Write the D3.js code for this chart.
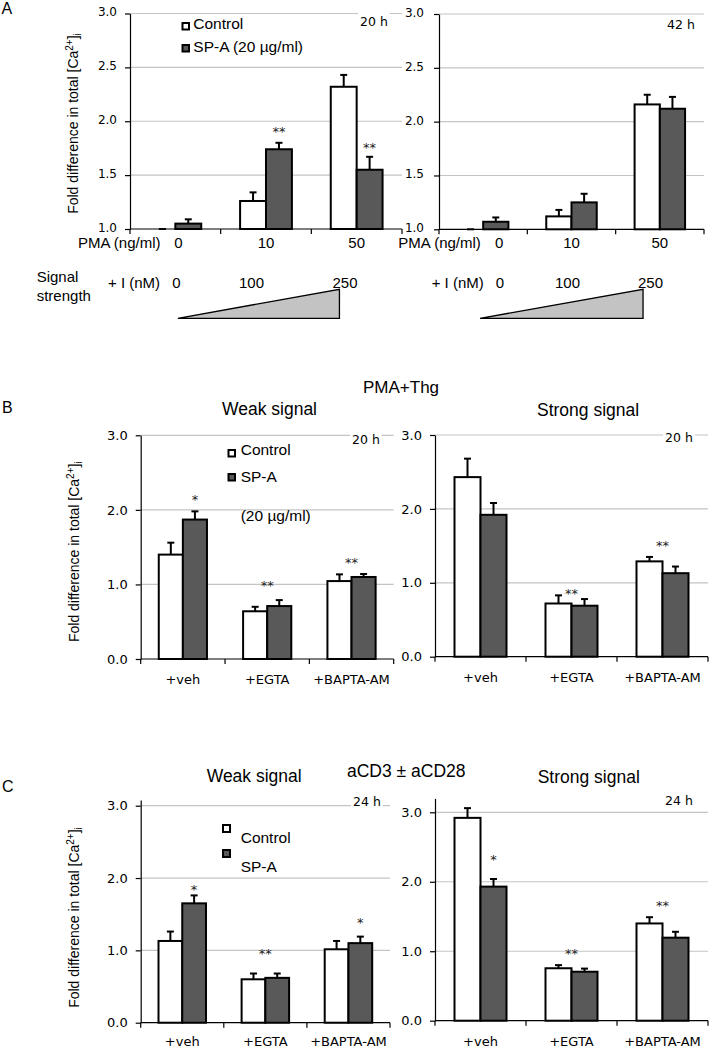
<!DOCTYPE html>
<html><head><meta charset="utf-8">
<script src="https://cdn.jsdelivr.net/npm/d3@7"></script>
<style>
body{margin:0;background:#fff}
svg{display:block}
text{font-family:"Liberation Sans",Arial,sans-serif;fill:#000}
.dv{font-family:"DejaVu Sans",Verdana,sans-serif}
</style>
</head><body>
<svg id="chart" width="709" height="1048"></svg>
<script>
// ---------- data ----------
const seriesNames = ["Control", "SP-A"];
const catsA = ["0", "10", "50"];
const catsBC = ["+veh", "+EGTA", "+BAPTA-AM"];
const yTicksA = [1.0, 1.5, 2.0, 2.5, 3.0];
const yTicksBC = [0, 1, 2, 3];
const signalLabels = ["0", "100", "250"];

// Panel A, 20 h
const a20Control = [1.00, 1.26, 2.32];
const a20ControlErr = [0.00, 0.08, 0.11];
const a20SPA = [1.05, 1.74, 1.55];
const a20SPAErr = [0.04, 0.06, 0.12];
const a20Stars = [{cat: "10", text: "**", at: "SP-A", level: 1.93}, {cat: "50", text: "**", at: "SP-A", level: 1.78}];
// Panel A, 42 h
const a42Control = [1.00, 1.12, 2.16];
const a42ControlErr = [0.00, 0.06, 0.09];
const a42SPA = [1.07, 1.25, 2.12];
const a42SPAErr = [0.04, 0.08, 0.11];
const a42Stars = [];
// Panel B weak
const bWeakControl = [1.40, 0.64, 1.045];
const bWeakControlErr = [0.16, 0.06, 0.09];
const bWeakSPA = [1.87, 0.71, 1.10];
const bWeakSPAErr = [0.11, 0.08, 0.04];
const bWeakStars = [{cat: "+veh", text: "*", at: "SP-A", level: 2.18}, {cat: "+EGTA", text: "**", at: "mid", level: 1.03}, {cat: "+BAPTA-AM", text: "**", at: "mid", level: 1.34}];
// Panel B strong
const bStrongControl = [2.43, 0.72, 1.29];
const bStrongControlErr = [0.25, 0.11, 0.06];
const bStrongSPA = [1.92, 0.69, 1.13];
const bStrongSPAErr = [0.16, 0.09, 0.09];
const bStrongStars = [{cat: "+EGTA", text: "**", at: "mid", level: 0.90}, {cat: "+BAPTA-AM", text: "**", at: "mid", level: 1.54}];
// Panel C weak
const cWeakControl = [1.13, 0.60, 1.015];
const cWeakControlErr = [0.13, 0.08, 0.115];
const cWeakSPA = [1.65, 0.62, 1.10];
const cWeakSPAErr = [0.11, 0.06, 0.09];
const cWeakStars = [{cat: "+veh", text: "*", at: "SP-A", level: 1.88}, {cat: "+EGTA", text: "**", at: "mid", level: 1.00}, {cat: "+BAPTA-AM", text: "*", at: "SP-A", level: 1.42}];
// Panel C strong
const cStrongControl = [2.92, 0.755, 1.40];
const cStrongControlErr = [0.14, 0.045, 0.09];
const cStrongSPA = [1.93, 0.705, 1.195];
const cStrongSPAErr = [0.11, 0.045, 0.085];
const cStrongStars = [{cat: "+veh", text: "*", at: "SP-A", level: 2.36}, {cat: "+EGTA", text: "**", at: "mid", level: 1.01}, {cat: "+BAPTA-AM", text: "**", at: "mid", level: 1.70}];

// ---------- drawing ----------
const svg = d3.select("#chart");
const DARK = "#595959", GRID = "#c4c4c4";

function panel(p) {
  const g = svg.append("g");
  const x = d3.scaleBand().domain(p.cats).range([p.x0, p.x1]);
  const xs = d3.scaleBand().domain(seriesNames).range([0, x.bandwidth()]).paddingOuter(0.75);
  const ymin = p.ticks[0], y3 = p.ticks[p.ticks.length - 1];
  const pxPer = (p.yb - p.y3) / (y3 - ymin);
  const ytop = p.ytop || y3;
  const y = d3.scaleLinear().domain([ymin, ytop]).range([p.yb, p.yb - pxPer * (ytop - ymin)]);

  // gridlines
  g.selectAll(".grid").data(p.ticks.filter(t => t > ymin)).join("line")
    .attr("x1", p.x0).attr("x2", p.x1)
    .attr("y1", d => y(d)).attr("y2", d => y(d))
    .attr("stroke", GRID).attr("stroke-width", 1.2);

  // y axis
  const ya = g.append("g").attr("transform", `translate(${p.x0},0)`)
    .call(d3.axisLeft(y).tickValues(p.ticks).tickFormat(d3.format(".1f"))
      .tickSizeInner(5).tickSizeOuter(0).tickPadding(p.tickPad || 8));
  ya.select(".domain").attr("stroke", "#000").attr("stroke-width", 1.2);
  ya.selectAll(".tick line").attr("stroke", "#000").attr("stroke-width", 1.2);
  ya.selectAll(".tick text").attr("class", "dv").style("font-size", p.tickFont + "px")
    .style("font-family", '"DejaVu Sans",Verdana,sans-serif').attr("fill", "#000")
    .attr("dy", p.tickDy || "0.32em");

  // x axis
  g.append("line").attr("x1", p.x0).attr("x2", p.x1).attr("y1", y(ymin)).attr("y2", y(ymin))
    .attr("stroke", "#000").attr("stroke-width", 1.2);
  const bounds = p.cats.map(c => x(c)).concat([p.x1]);
  g.selectAll(".xt").data(bounds).join("line")
    .attr("x1", d => d).attr("x2", d => d).attr("y1", y(ymin)).attr("y2", y(ymin) + 5)
    .attr("stroke", "#000").attr("stroke-width", 1.2);

  // bars
  const rows = [];
  p.cats.forEach((c, i) => {
    rows.push({cat: c, s: "Control", v: p.ctrl[i], e: p.ctrlErr[i]});
    rows.push({cat: c, s: "SP-A", v: p.spa[i], e: p.spaErr[i]});
  });
  const bw = xs.bandwidth();
  g.selectAll(".bar").data(rows.filter(r => r.v > ymin)).join("rect")
    .attr("x", d => x(d.cat) + xs(d.s)).attr("width", bw)
    .attr("y", d => y(d.v)).attr("height", d => y(ymin) - y(d.v))
    .attr("fill", d => d.s === "Control" ? "#fff" : DARK)
    .attr("stroke", "#000").attr("stroke-width", 2);
  // error bars
  g.selectAll(".err").data(rows.filter(r => r.e > 0)).join("line")
    .attr("x1", d => x(d.cat) + xs(d.s) + bw / 2).attr("x2", d => x(d.cat) + xs(d.s) + bw / 2)
    .attr("y1", d => y(d.v)).attr("y2", d => y(d.v + d.e))
    .attr("stroke", "#000").attr("stroke-width", 2);
  g.selectAll(".cap").data(rows).join("line")
    .attr("x1", d => x(d.cat) + xs(d.s) + bw / 2 - 3.5).attr("x2", d => x(d.cat) + xs(d.s) + bw / 2 + 3.5)
    .attr("y1", d => y(d.v + d.e)).attr("y2", d => y(d.v + d.e))
    .attr("stroke", "#000").attr("stroke-width", 2);

  // stars
  g.selectAll(".star").data(p.stars).join("text")
    .attr("class", "dv").attr("text-anchor", "middle").style("font-size", "13px")
    .style("fill", "#222")
    .attr("x", d => d.at === "SP-A" ? x(d.cat) + xs("SP-A") + bw / 2 : x(d.cat) + x.bandwidth() / 2)
    .attr("y", d => y(d.level) + 7.5)
    .text(d => d.text);

  // category labels
  g.selectAll(".cl").data(p.cats).join("text")
    .attr("class", p.catClass || "").attr("text-anchor", "middle")
    .style("font-size", p.catFont + "px")
    .attr("x", (d, i) => x(d) + x.bandwidth() / 2 + (i === 0 ? (p.firstOffset || 0) : 0))
    .attr("y", y(ymin) + p.catDy)
    .text(d => d);
  return {x, y};
}

function text(t, xx, yy, size, cls, anchor) {
  return svg.append("text").attr("x", xx).attr("y", yy).attr("class", cls || "")
    .attr("text-anchor", anchor || "start").style("font-size", size + "px").text(t);
}
function timeLabel(t, xx, yy) {
  const tt = text(t, xx, yy, 12.5, "dv");
  const bb = tt.node().getBBox();
  svg.insert("rect", () => tt.node()).attr("x", bb.x - 2).attr("y", bb.y - 1)
    .attr("width", bb.width + 4).attr("height", bb.height + 2).attr("fill", "#fff");
}
function yTitle(tx, cy) {
  const t = svg.append("text").attr("transform", `translate(${tx},${cy}) rotate(-90)`)
    .attr("text-anchor", "middle").style("font-size", "14px");
  t.append("tspan").text("Fold difference in total [Ca");
  t.append("tspan").attr("dy", -5).style("font-size", "10px").text("2+");
  t.append("tspan").attr("dy", 5).text("]");
  t.append("tspan").attr("dy", 3).style("font-size", "10px").text("i");
}
function legend(x0, y1, y2, tx, ty1, ty2, lab2, size) {
  svg.append("rect").attr("x", x0).attr("y", y1).attr("width", 6.5).attr("height", 6.5)
    .attr("fill", "#fff").attr("stroke", "#000").attr("stroke-width", 2);
  svg.append("rect").attr("x", x0).attr("y", y2).attr("width", 6.5).attr("height", 6.5)
    .attr("fill", DARK).attr("stroke", "#000").attr("stroke-width", 2);
  text(seriesNames[0], tx, ty1, size);
  text(lab2, tx, ty2, size);
}

// ----- Panel A -----
text("A", 1.5, 13.5, 16);
const pA1 = {cats: catsA, x0: 130, x1: 402, yb: 229, y3: 13.5, ticks: yTicksA, tickFont: 12, tickDy: "0.2em",
  ctrl: a20Control, ctrlErr: a20ControlErr, spa: a20SPA, spaErr: a20SPAErr, stars: a20Stars,
  catFont: 15, catDy: 18.5, firstOffset: 3};
const pA2 = {cats: catsA, x0: 439, x1: 704, yb: 229.3, y3: 14, ticks: yTicksA, tickFont: 12, tickPad: 10, tickDy: "0.2em",
  ctrl: a42Control, ctrlErr: a42ControlErr, spa: a42SPA, spaErr: a42SPAErr, stars: a42Stars,
  catFont: 15, catDy: 18.5, firstOffset: 16};
panel(pA1);
panel(pA2);
yTitle(78, 123.5);
legend(182.5, 23, 45, 193.3, 28.5, 51.7, "SP-A (20 µg/ml)", 15.5);
timeLabel("20 h", 360, 26);
timeLabel("42 h", 667, 29);
text("PMA (ng/ml)", 78, 247.5, 15);
text("PMA (ng/ml)", 398.3, 247.5, 15);

// signal strength rows
text("Signal", 36.7, 282, 15);
text("strength", 36.7, 300.5, 15);
[[pA1, [176.5, 251.5, 345], 108, 0.176], [pA2, [500, 567.5, 650.5], 431.7, 0.155]].forEach(([p, xsL, lx, f]) => {
  text("+ I (nM)", lx, 287.5, 15);
  signalLabels.forEach((s, i) => text(s, xsL[i], 287.5, 15, "", "middle"));
  const W = p.x1 - p.x0;
  const xl = p.x0 + W * f, xr = p.x0 + W * 0.77;
  svg.append("path").attr("d", d3.line()([[xl, 318.3], [xr, 289.3], [xr, 318.3]]) + "Z")
    .attr("fill", "#c3c3c3").attr("stroke", "#000").attr("stroke-width", 1.3);
});

// ----- Panel B -----
text("B", 2, 412.7, 16);
text("PMA+Thg", 363, 393, 17);
text("Weak signal", 222, 415, 17.5);
text("Strong signal", 537, 416, 17.5);
panel({cats: catsBC, x0: 140.7, x1: 393.7, yb: 659, y3: 435.3, ticks: yTicksBC, tickFont: 13,
  ctrl: bWeakControl, ctrlErr: bWeakControlErr, spa: bWeakSPA, spaErr: bWeakSPAErr, stars: bWeakStars,
  catFont: 13, catDy: 25, catClass: "dv"});
panel({cats: catsBC, x0: 435, x1: 708, yb: 656.7, y3: 435, ticks: yTicksBC, tickFont: 13,
  ctrl: bStrongControl, ctrlErr: bStrongControlErr, spa: bStrongSPA, spaErr: bStrongSPAErr, stars: bStrongStars,
  catFont: 13, catDy: 25, catClass: "dv"});
yTitle(78.5, 551.7);
legend(228.5, 450, 474, 240.7, 455, 481.7, "SP-A", 15.5);
text("(20 µg/ml)", 240.7, 520.5, 15.5);
timeLabel("20 h", 352, 444);
timeLabel("20 h", 665, 441.7);

// ----- Panel C -----
text("C", 2, 791.7, 16);
text("Weak signal", 206.7, 781.7, 17.5);
text("aCD3 ± aCD28", 347, 776.7, 17.5);
text("Strong signal", 537.7, 783, 17.5);
panel({cats: catsBC, x0: 140.7, x1: 390, yb: 1022.7, y3: 805.7, ytop: 3.08, ticks: yTicksBC, tickFont: 13,
  ctrl: cWeakControl, ctrlErr: cWeakControlErr, spa: cWeakSPA, spaErr: cWeakSPAErr, stars: cWeakStars,
  catFont: 13, catDy: 23.5, catClass: "dv"});
panel({cats: catsBC, x0: 435, x1: 708, yb: 1020.7, y3: 812.3, ytop: 3.2, ticks: yTicksBC, tickFont: 13,
  ctrl: cStrongControl, ctrlErr: cStrongControlErr, spa: cStrongSPA, spaErr: cStrongSPAErr, stars: cStrongStars,
  catFont: 13, catDy: 25.5, catClass: "dv"});
yTitle(78.5, 917.5);
svg.append("rect").attr("x", 223).attr("y", 825).attr("width", 7).attr("height", 7)
  .attr("fill", "#fff").attr("stroke", "#000").attr("stroke-width", 2);
svg.append("rect").attr("x", 223).attr("y", 850).attr("width", 7).attr("height", 7)
  .attr("fill", DARK).attr("stroke", "#000").attr("stroke-width", 2);
text(seriesNames[0], 240.7, 843, 15.5);
text(seriesNames[1], 240.7, 871.7, 15.5);
timeLabel("24 h", 353, 806);
timeLabel("24 h", 665, 805);
</script>
</body></html>
